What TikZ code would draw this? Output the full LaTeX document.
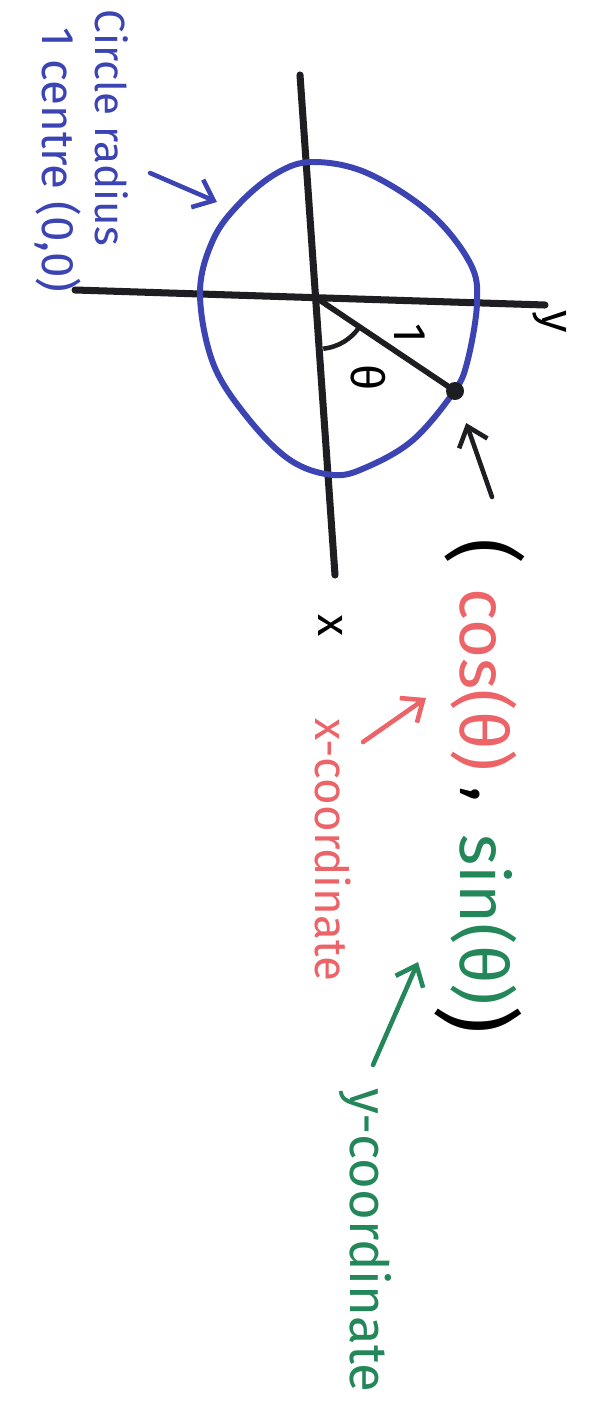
\documentclass[tikz,border=0pt]{standalone}
\usepackage{fontspec}
\setmainfont{Fira Sans}
\usetikzlibrary{positioning,arrows.meta}
\definecolor{penblue}{HTML}{3C44B4}
\definecolor{penred}{HTML}{EC6468}
\definecolor{pengreen}{HTML}{23875A}
\definecolor{penblack}{HTML}{1E1E22}

\begin{document}
\begin{tikzpicture}[x=0.02cm,y=-0.02cm,
 lbl/.style={rotate=-90,inner sep=0pt,font=\fontsize{26}{30}\selectfont},
 biglbl/.style={lbl,font=\fontsize{38}{44}\selectfont},
 axis/.style={draw=penblack,line width=4pt,line cap=round},
 arr/.style={-{Straight Barb[length=3.6mm,width=6mm]},line width=2.6pt,line cap=round}]
\useasboundingbox[fill=white] (0,0) rectangle (605,1406);
% axes
\coordinate (O) at (318,299);
\coordinate (yl) at (75,290); \coordinate (yr) at (545,305);
\coordinate (xt) at (300,75); \coordinate (xb) at (335,575);
\draw[axis] (yl) -- (yr);
\draw[axis] (xt) -- (xb);
\node[lbl] (ylbl) at (550,322) {y};
\node[lbl] (xlbl) at (331,626) {x};
% unit circle
\draw[penblue,line width=3.4pt] plot[smooth cycle,tension=0.6] coordinates {
 (313,162) (367,173) (430,213) (470,263) (477,303) (467,363) (453,393)
 (413,440) (367,467) (333,475) (290,460) (247,417) (213,363) (200,293)
 (213,240) (240,203) (277,173)};
\node[lbl,penblue,font=\fontsize{24}{28}\selectfont] (circlelbl) at (112,128) {Circle radius};
\node[lbl,penblue] (centrelbl) at (58,160) {1 centre (0,0)};
\coordinate (btail) at (150,173); \coordinate (bhead) at (217,202);
\draw[arr,penblue] (btail) -- (bhead);
% radius and angle
\node[circle,fill=penblack,inner sep=0pt,minimum size=18*0.02cm] (dot) at (455,391) {};
\draw[penblack,line width=3.2pt,line cap=round] (O) -- (dot.center);
\draw[penblack,line width=2.6pt] ([shift={(84:50)}]O) arc[start angle=84,end angle=34,radius=50];
\node[lbl] (onelbl) at (410,333) {1};
\node[lbl] (thetalbl) at (368,378) {θ};
\coordinate (ptail) at (492,497);
\draw[arr,penblack] (ptail) -- (dot) [shorten >=14pt];
% point coordinates
\node[biglbl,font=\fontsize{46}{50}\selectfont] (lpar) at (485,552) {(};
\node[biglbl,penred] (coslbl) at (484,680) {cos(θ)};
\node[biglbl] (comma) at (470,795) {,};
\node[biglbl,pengreen] (sinlbl) at (484,920) {sin(θ)};
\node[biglbl,font=\fontsize{50}{54}\selectfont] (rpar) at (478,1020) {)};
% component labels
\node[lbl,penred] (xcoord) at (333,850) {x-coordinate};
\node[lbl,pengreen,font=\fontsize{30}{34}\selectfont] (ycoord) at (365,1240) {y-coordinate};
\coordinate (rtail) at (363,742); \coordinate (rhead) at (426,698);
\draw[arr,penred] (rtail) -- (rhead);
\coordinate (gtail) at (373,1065); \coordinate (ghead) at (418,962);
\draw[arr,pengreen] (gtail) -- (ghead);
\end{tikzpicture}
\end{document}
